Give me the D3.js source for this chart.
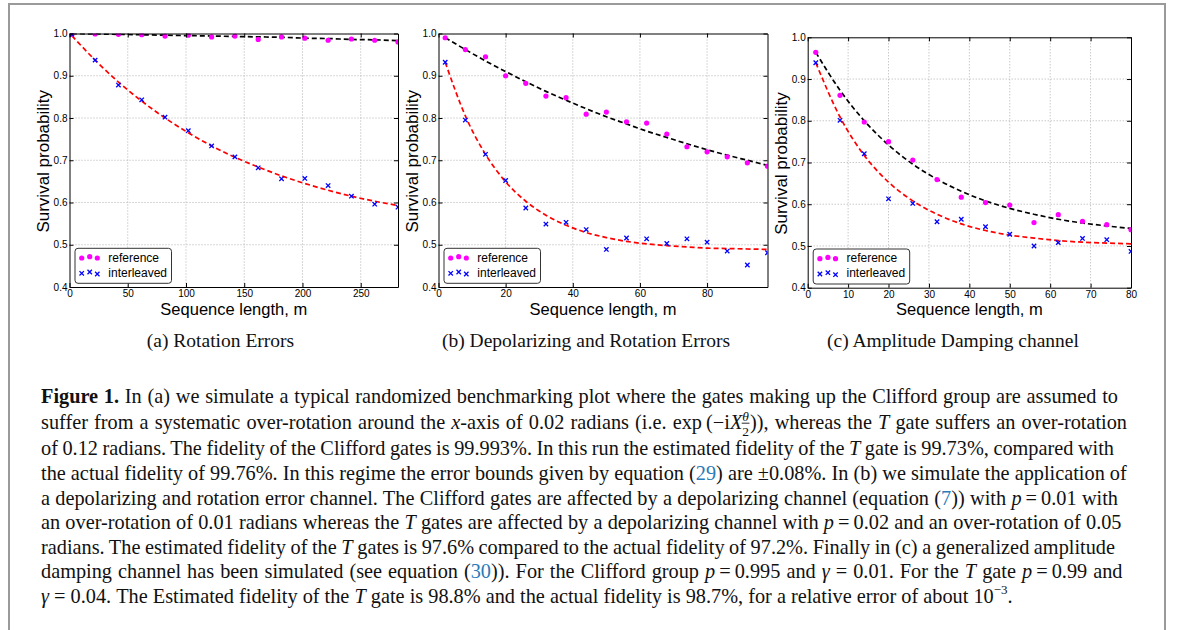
<!DOCTYPE html>
<html>
<head>
<meta charset="utf-8">
<script src="https://cdn.jsdelivr.net/npm/d3@7"></script>
<style>
  html, body { margin: 0; padding: 0; background: #fff; }
  svg { display: block; }
</style>
</head>
<body>
<svg id="fig" width="1182" height="630"></svg>
<script>
// ---------- data ----------
const seriesNames = ["reference", "interleaved"];
const yTicks = [0.4, 0.5, 0.6, 0.7, 0.8, 0.9, 1.0];

// (a) rotation errors
const xTicksA = [0, 50, 100, 150, 200, 250];
const xMaxA = 282;
const mA = [2, 22, 42, 62, 82, 102, 122, 142, 162, 182, 202, 222, 242, 262, 282];
const refA = [0.998, 0.999, 0.998, 0.997, 0.994, 0.996, 0.992, 0.994, 0.986, 0.992, 0.989, 0.984, 0.987, 0.984, 0.980];
const intA = [0.998, 0.937, 0.878, 0.843, 0.802, 0.770, 0.734, 0.708, 0.682, 0.656, 0.657, 0.640, 0.615, 0.596, 0.589];
const fitRefA = [0.9995, 0.999, 0.998, 0.997, 0.996, 0.995, 0.994, 0.993, 0.992, 0.991, 0.989, 0.988, 0.986, 0.985, 0.983];
const fitIntA = [0.995, 0.937, 0.885, 0.840, 0.800, 0.765, 0.734, 0.707, 0.684, 0.663, 0.645, 0.629, 0.615, 0.603, 0.593];

// (b) depolarizing and rotation errors
const xTicksB = [0, 20, 40, 60, 80];
const xMaxB = 98;
const mB = [2, 8, 14, 20, 26, 32, 38, 44, 50, 56, 62, 68, 74, 80, 86, 92, 98];
const refB = [0.990, 0.962, 0.945, 0.900, 0.882, 0.852, 0.848, 0.809, 0.814, 0.791, 0.788, 0.762, 0.732, 0.720, 0.708, 0.694, 0.686];
const intB = [0.932, 0.795, 0.714, 0.652, 0.587, 0.549, 0.553, 0.536, 0.489, 0.516, 0.514, 0.503, 0.514, 0.506, 0.485, 0.452, 0.481];
const fitRefB = [0.990, 0.962, 0.935, 0.910, 0.886, 0.863, 0.842, 0.822, 0.803, 0.786, 0.769, 0.754, 0.739, 0.725, 0.712, 0.700, 0.688];
const fitIntB = [0.932, 0.805, 0.714, 0.649, 0.603, 0.570, 0.546, 0.529, 0.517, 0.508, 0.502, 0.498, 0.495, 0.492, 0.491, 0.490, 0.489];

// (c) amplitude damping channel
const xTicksC = [0, 10, 20, 30, 40, 50, 60, 70, 80];
const xMaxC = 80;
const mC = [2, 8, 14, 20, 26, 32, 38, 44, 50, 56, 62, 68, 74, 80];
const refC = [0.964, 0.861, 0.797, 0.750, 0.706, 0.659, 0.617, 0.604, 0.598, 0.556, 0.575, 0.559, 0.551, 0.539];
const intC = [0.939, 0.801, 0.721, 0.613, 0.602, 0.558, 0.564, 0.546, 0.528, 0.500, 0.508, 0.518, 0.515, 0.487];
const fitRefC = [0.964, 0.873, 0.800, 0.742, 0.696, 0.660, 0.631, 0.608, 0.590, 0.576, 0.564, 0.555, 0.548, 0.542];
const fitIntC = [0.939, 0.809, 0.717, 0.653, 0.608, 0.576, 0.553, 0.537, 0.526, 0.519, 0.513, 0.509, 0.507, 0.505];

const xLabel = "Sequence length, m";
const yLabel = "Survival probability";
const subCaptions = ["(a) Rotation Errors", "(b) Depolarizing and Rotation Errors", "(c) Amplitude Damping channel"];

// caption text, one array of [style, text] runs per printed line
const captionLines = [
  [["b", "Figure 1."], ["n", " In (a) we simulate a typical randomized benchmarking plot where the gates making up the Clifford group are assumed to"]],
  [["n", "suffer from a systematic over-rotation around the "], ["i", "x"], ["n", "-axis of 0.02 radians (i.e. exp\u2009(\u2212i"], ["i", "X"], ["num", "\u03b8"], ["den", "2"], ["n", ")), whereas the "], ["i", "T"], ["n", " gate suffers an over-rotation"]],
  [["n", "of 0.12 radians. The fidelity of the Clifford gates is 99.993%. In this run the estimated fidelity of the "], ["i", "T"], ["n", " gate is 99.73%, compared with"]],
  [["n", "the actual fidelity of 99.76%. In this regime the error bounds given by equation ("], ["l", "29"], ["n", ") are \u00b10.08%. In (b) we simulate the application of"]],
  [["n", "a depolarizing and rotation error channel. The Clifford gates are affected by a depolarizing channel (equation ("], ["l", "7"], ["n", ")) with "], ["i", "p"], ["n", "\u2009=\u20090.01 with"]],
  [["n", "an over-rotation of 0.01 radians whereas the "], ["i", "T"], ["n", " gates are affected by a depolarizing channel with "], ["i", "p"], ["n", "\u2009=\u20090.02 and an over-rotation of 0.05"]],
  [["n", "radians. The estimated fidelity of the "], ["i", "T"], ["n", " gates is 97.6% compared to the actual fidelity of 97.2%. Finally in (c) a generalized amplitude"]],
  [["n", "damping channel has been simulated (see equation ("], ["l", "30"], ["n", ")). For the Clifford group "], ["i", "p"], ["n", "\u2009=\u20090.995 and "], ["i", "\u03b3"], ["n", " = 0.01. For the "], ["i", "T"], ["n", " gate "], ["i", "p"], ["n", "\u2009=\u20090.99 and"]],
  [["i", "\u03b3"], ["n", " = 0.04. The Estimated fidelity of the "], ["i", "T"], ["n", " gate is 98.8% and the actual fidelity is 98.7%, for a relative error of about 10"], ["sup", "\u22123"], ["n", "."]]
];

// ---------- layout ----------
const sans = "'Liberation Sans', Arial, Helvetica, sans-serif";
const serif = "'Liberation Serif', 'Times New Roman', serif";

const panels = [
  { x0: 69.5, x1: 398, y0: 33.5, y1: 287, capX: 220.5, xTicks: xTicksA, xMax: xMaxA, m: mA, ref: refA, int: intA, fitRef: fitRefA, fitInt: fitIntA },
  { x0: 438.5, x1: 767.5, y0: 33.5, y1: 287, capX: 586, xTicks: xTicksB, xMax: xMaxB, m: mB, ref: refB, int: intB, fitRef: fitRefB, fitInt: fitIntB },
  { x0: 807.7, x1: 1131, y0: 37.3, y1: 287.7, capX: 953, xTicks: xTicksC, xMax: xMaxC, m: mC, ref: refC, int: intC, fitRef: fitRefC, fitInt: fitIntC }
];

const svg = d3.select("#fig");
svg.append("rect").attr("width", 1182).attr("height", 630).attr("fill", "#fff");

// page frame
svg.append("rect")
  .attr("x", 9).attr("y", 4).attr("width", 1156).attr("height", 660)
  .attr("fill", "none").attr("stroke", "#9a9a9a").attr("stroke-width", 2);

const crossPath = s => `M${-s},${-s}L${s},${s}M${-s},${s}L${s},${-s}`;

panels.forEach((p, i) => {
  const x = d3.scaleLinear().domain([0, p.xMax]).range([p.x0, p.x1]);
  const y = d3.scaleLinear().domain([0.4, 1.0]).range([p.y1, p.y0]);
  const g = svg.append("g");

  const clipId = "plot-clip-" + i;
  svg.append("clipPath").attr("id", clipId)
    .append("rect").attr("x", p.x0).attr("y", p.y0)
    .attr("width", p.x1 - p.x0).attr("height", p.y1 - p.y0);

  // dotted grid
  const grid = g.append("g").attr("stroke", "#b0b0b0").attr("stroke-width", 1).attr("stroke-dasharray", "1,2");
  grid.selectAll("line.gx").data(p.xTicks.filter(t => t > 0 && t < p.xMax)).join("line")
    .attr("x1", d => x(d)).attr("x2", d => x(d)).attr("y1", p.y0).attr("y2", p.y1);
  grid.selectAll("line.gy").data(yTicks.filter(t => t > 0.4 && t < 1.0)).join("line")
    .attr("x1", p.x0).attr("x2", p.x1).attr("y1", d => y(d)).attr("y2", d => y(d));

  // fitted decay curves
  const line = d3.line().x((d, k) => x(p.m[k])).y(d => y(d)).curve(d3.curveMonotoneX);
  const curves = g.append("g").attr("clip-path", `url(#${clipId})`).attr("fill", "none")
    .attr("stroke-width", 1.7).attr("stroke-dasharray", "5,3");
  curves.append("path").attr("d", line(p.fitRef)).attr("stroke", "#000");
  curves.append("path").attr("d", line(p.fitInt)).attr("stroke", "#ff0000");

  // measured points
  const pts = g.append("g").attr("clip-path", `url(#${clipId})`);
  pts.selectAll("circle").data(p.ref).join("circle")
    .attr("cx", (d, k) => x(p.m[k])).attr("cy", d => y(d)).attr("r", 2.6).attr("fill", "#ff00ff");
  pts.selectAll("path").data(p.int).join("path")
    .attr("transform", (d, k) => `translate(${x(p.m[k])},${y(d)})`)
    .attr("d", crossPath(2.2)).attr("stroke", "#0000ff").attr("stroke-width", 1.3).attr("fill", "none");

  // axes with inward ticks on all four sides
  const styleAxis = sel => {
    sel.attr("font-family", sans).attr("font-size", 10);
    sel.selectAll("text").attr("fill", "#000");
    sel.selectAll("line,path").attr("stroke", "#000");
  };
  g.append("g").attr("transform", `translate(0,${p.y1})`)
    .call(d3.axisBottom(x).tickValues(p.xTicks).tickSizeInner(-4).tickSizeOuter(0).tickPadding(3.3).tickFormat(d3.format("d")))
    .call(styleAxis);
  g.append("g").attr("transform", `translate(${p.x0},0)`)
    .call(d3.axisLeft(y).tickValues(yTicks).tickSizeInner(-4).tickSizeOuter(0).tickPadding(2).tickFormat(d3.format(".1f")))
    .call(styleAxis);
  g.append("g").attr("transform", `translate(0,${p.y0})`)
    .call(d3.axisTop(x).tickValues(p.xTicks).tickSizeInner(-4).tickSizeOuter(0).tickFormat(() => ""))
    .call(styleAxis);
  g.append("g").attr("transform", `translate(${p.x1},0)`)
    .call(d3.axisRight(y).tickValues(yTicks).tickSizeInner(-4).tickSizeOuter(0).tickFormat(() => ""))
    .call(styleAxis);

  // axis titles
  g.append("text").attr("x", (p.x0 + p.x1) / 2).attr("y", p.y1 + 27.5)
    .attr("text-anchor", "middle").attr("font-family", sans).attr("font-size", 16.5).text(xLabel);
  g.append("text").attr("transform", `translate(${p.x0 - 21},${(p.y0 + p.y1) / 2 + 1}) rotate(-90)`)
    .attr("text-anchor", "middle").attr("font-family", sans).attr("font-size", 17).text(yLabel);

  // legend
  const bx = p.x0 + 5.5, by = p.y1 - 38.7;
  const lg = g.append("g");
  lg.append("rect").attr("x", bx).attr("y", by).attr("width", 96.5).attr("height", 35).attr("rx", 3)
    .attr("fill", "#fff").attr("stroke", "#333").attr("stroke-width", 1);
  const mdx = [6.7, 14.7, 22.3];
  const refDy = [9.7, 8.4, 9.7];
  const intDy = [25, 23.7, 25.7];
  mdx.forEach((dx, k) => {
    lg.append("circle").attr("cx", bx + dx).attr("cy", by + refDy[k]).attr("r", 2.6).attr("fill", "#ff00ff");
    lg.append("path").attr("transform", `translate(${bx + dx},${by + intDy[k]})`)
      .attr("d", crossPath(2.2)).attr("stroke", "#0000ff").attr("stroke-width", 1.3);
  });
  lg.append("text").attr("x", bx + 33.3).attr("y", by + 13.4).attr("font-family", sans).attr("font-size", 12).text(seriesNames[0]);
  lg.append("text").attr("x", bx + 33.3).attr("y", by + 28.4).attr("font-family", sans).attr("font-size", 12).text(seriesNames[1]);

  // sub-figure caption
  svg.append("text").attr("x", p.capX).attr("y", 347).attr("text-anchor", "middle")
    .attr("font-family", serif).attr("font-size", 19.5).attr("fill", "#111").text(subCaptions[i]);
});

// ---------- figure caption ----------
const capLeft = 41;
const capBaselines = [402.5, 429, 455, 480, 504.5, 529, 553.5, 578, 602.5];
const capRight = [1118, 1127, 1114, 1127, 1118, 1121.5, 1115, 1122.5, null];
const runOffset = { n: 0, b: 0, i: 0, l: 0, sup: -8.5, num: -8, den: 6.5 };

captionLines.forEach((runs, li) => {
  const t = svg.append("text").attr("x", capLeft).attr("y", capBaselines[li])
    .attr("font-family", serif).attr("font-size", 20.3).attr("fill", "#111");
  let cur = 0, idx = 0;
  const charIdx = {};
  runs.forEach(([k, s]) => {
    const ts = t.append("tspan").text(s);
    const off = runOffset[k];
    if (off !== cur) { ts.attr("dy", off - cur); cur = off; }
    if (k === "b") ts.attr("font-weight", "bold");
    if (k === "i" || k === "num") ts.attr("font-style", "italic");
    if (k === "l") ts.attr("fill", "#2a7ab8");
    if (k === "sup") ts.attr("font-size", 13);
    if (k === "num") ts.attr("font-size", 13.5);
    if (k === "den") ts.attr("font-size", 13.5).attr("dx", -6.7);
    if (k === "n" && li === 1 && s.startsWith("))")) ts.attr("dx", 1);
    charIdx[k] = idx;
    idx += s.length;
  });

  // justify to the measured right margin by widening the word gaps
  if (capRight[li] !== null) {
    const node = t.node();
    const target = capRight[li] - capLeft;
    const w0 = node.getBBox().width;
    const full = runs.map(r => r[1]).join("");
    const spaces = (full.match(/ /g) || []).length;
    if (spaces > 0) {
      const ws = (target - w0) / spaces;
      t.attr("word-spacing", ws);
      const w1 = node.getBBox().width;
      if (Math.abs(w1 - target) > 4) {
        t.attr("word-spacing", null).attr("textLength", target).attr("lengthAdjust", "spacing");
      }
    }
  }

  // fraction bar for theta over 2
  if (charIdx.num !== undefined && charIdx.den !== undefined) {
    const node = t.node();
    const a = node.getExtentOfChar(charIdx.num);
    const b = node.getExtentOfChar(charIdx.den);
    const xa = Math.min(a.x, b.x) - 0.5, xb = Math.max(a.x + a.width, b.x + b.width) + 0.5;
    svg.append("line").attr("x1", xa).attr("x2", xb)
      .attr("y1", capBaselines[li] - 5.8).attr("y2", capBaselines[li] - 5.8)
      .attr("stroke", "#111").attr("stroke-width", 0.9);
  }
});
</script>
</body>
</html>
